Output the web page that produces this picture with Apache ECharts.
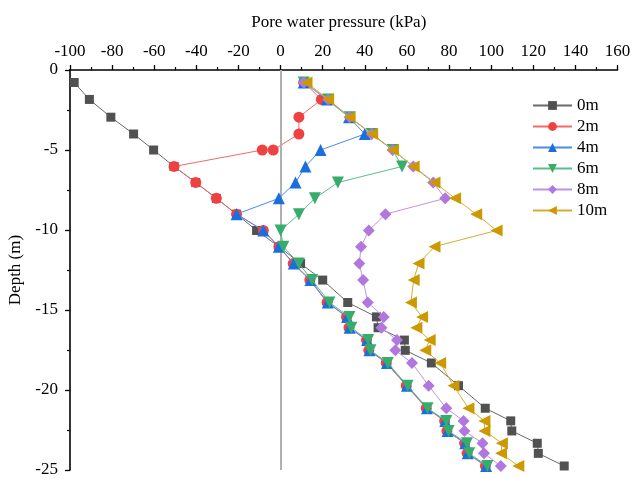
<!DOCTYPE html>
<html><head><meta charset="utf-8">
<script src="https://cdn.jsdelivr.net/npm/echarts@6/dist/echarts.min.js"></script>
<style>html,body{margin:0;padding:0;background:#fff}#c{width:632px;height:478px}</style>
</head><body><div id="c"></div>
<script>
// Depth levels (m)
const depth = [-0.78,-1.84,-2.95,-4.0,-5.0,-6.03,-7.03,-8.02,-9.01,-10.03,-11.04,-12.1,-13.13,-14.53,-15.43,-16.11,-16.88,-17.52,-18.31,-19.73,-21.14,-21.93,-22.56,-23.33,-23.96,-24.75];
// 2m series has two points at -5 m
const depth2m = [-0.78,-1.84,-2.95,-4.0,-5.0,-5.0,-6.03,-7.03,-8.02,-9.01,-10.03,-11.04,-12.1,-13.13,-14.53,-15.43,-16.11,-16.88,-17.52,-18.31,-19.73,-21.14,-21.93,-22.56,-23.33,-23.96,-24.75];

const p0m  = [-98,-90.8,-80.6,-69.8,-60.3,-50.6,-40.3,-30.5,-20.9,-11.4,-0.8,9.5,20,31.9,45.5,46.3,58.8,59.2,71.6,84.5,97.2,109.3,109.8,121.9,122.4,134.7];
const p2m  = [11,19.4,8.7,8.7,-3.5,-8.7,-50.6,-40.3,-30.5,-20.9,-8.2,-0.8,6.0,13.9,22.1,31.3,32.5,40.8,41.9,50.2,59.7,69.2,77.9,79.0,87.4,88.6,97.3];
const p4m  = [11,22,32.5,40,19,11.8,7.1,-0.8,-20.9,-8.2,-0.8,6.3,14.2,22.4,31.6,32.8,41.1,42.2,50.5,60,69.5,78.2,79.3,87.7,88.9,97.6];
const p6m  = [11,22.6,32.8,43.3,53.2,57.7,27.2,16.3,8.7,0,1.3,8.7,15,23.2,32.7,33.6,41.6,42.7,50.9,60.3,69.8,78.7,79.8,88.5,89.6,98.2];
const p8m  = [11,22.6,32.8,43.3,53.2,63,72.5,78.2,49.8,41.9,38.2,37.4,39.2,41.4,49,47.9,55.3,54.5,62.4,70.3,78.7,86.9,87.3,95.9,96.6,104.6];
const p10m = [12.3,22.6,32.8,43.5,53.4,63.2,73.1,82.9,92.9,102.6,73.1,65.5,63.2,61.9,67.2,64.5,70.8,68.7,75.8,82.1,89.2,96.8,96.8,105.1,104.7,112.9];

const names = ['0m','2m','4m','6m','8m','10m'];
const xTicks = [-100,-80,-60,-40,-20,0,20,40,60,80,100,120,140,160];
const yTicks = [0,-5,-10,-15,-20,-25];

const FONT = 'Liberation Serif';
const pair = (xs, ds) => xs.map((v,i)=>[v, ds[i]]);

const cfg = [
  {name:'0m', data:pair(p0m,depth), symbol:'rect', size:9, rot:0, color:'#515151', line:'#6a6a6a'},
  {name:'2m', data:pair(p2m,depth2m), symbol:'circle', size:11, rot:0, color:'#F14040', line:'#f46a6a'},
  {name:'4m', data:pair(p4m,depth), symbol:'triangle', size:12, rot:0, color:'#1A6FDF', line:'#4a8ce6'},
  {name:'6m', data:pair(p6m,depth), symbol:'triangle', size:12, rot:180, color:'#37AD6B', line:'#5cbd87'},
  {name:'8m', data:pair(p8m,depth), symbol:'diamond', size:12, rot:0, color:'#B177DE', line:'#c093e5'},
  {name:'10m', data:pair(p10m,depth), symbol:'triangle', size:12, rot:90, color:'#CC9900', line:'#d6ad33'}
];

const series = cfg.map((c, i) => ({
  name: c.name,
  type: 'line',
  data: c.data,
  symbol: c.symbol,
  symbolSize: c.size,
  symbolRotate: c.rot,
  showAllSymbol: true,
  animation: false,
  itemStyle: {color: c.color},
  lineStyle: {color: c.line, width: 1},
  z: 3 + i,
  markLine: i === 0 ? {
    silent: true, symbol: ['none','none'], animation:false,
    label: {show:false},
    lineStyle: {color:'#b0b0b0', width: 2, type:'solid'},
    data: [{xAxis: 0}]
  } : undefined
}));

const chart = echarts.init(document.getElementById('c'));
chart.setOption({
  backgroundColor: '#fff',
  animation: false,
  grid: {left: 70, right: 14.5, top: 70, bottom: 8, containLabel: false, outerBoundsMode: 'none'},
  legend: {
    orient: 'vertical',
    left: 527, top: 92,
    itemWidth: 39, itemHeight: 11, itemGap: 4,
    textStyle: {fontFamily: FONT, fontSize: 17, color: '#000'},
    data: names
  },
  xAxis: {
    type: 'value', position: 'top',
    min: -100, max: 160, interval: 20,
    name: 'Pore water pressure (kPa)', nameLocation: 'middle', nameGap: 39,
    nameTextStyle: {fontFamily: FONT, fontSize: 17, color: '#000', padding: [0, 10, 0, 0]},
    axisLine: {show: true, onZero: false, lineStyle: {color: '#000', width: 1.6}},
    axisTick: {show: true, inside: false, length: 5, lineStyle: {color:'#000', width: 1.3}},
    minorTick: {show: true, splitNumber: 2, length: 3, lineStyle: {color:'#000', width: 1.2}},
    axisLabel: {fontFamily: FONT, fontSize: 17, color: '#000', margin: 10,
      formatter: v => xTicks.includes(v) ? String(v) : ''},
    splitLine: {show: false}
  },
  yAxis: {
    type: 'value',
    min: -25, max: 0, interval: 5,
    name: 'Depth (m)', nameLocation: 'middle', nameGap: 45, nameRotate: 90,
    nameTextStyle: {fontFamily: FONT, fontSize: 17, color: '#000'},
    axisLine: {show: true, onZero: false, lineStyle: {color: '#000', width: 1.6}},
    axisTick: {show: true, inside: false, length: 5, lineStyle: {color:'#000', width: 1.3}},
    minorTick: {show: true, splitNumber: 2, length: 3, lineStyle: {color:'#000', width: 1.2}},
    axisLabel: {fontFamily: FONT, fontSize: 17, color: '#000', margin: 12,
      formatter: v => yTicks.includes(v) ? String(v) : ''},
    splitLine: {show: false}
  },
  series: series
});
</script></body></html>
